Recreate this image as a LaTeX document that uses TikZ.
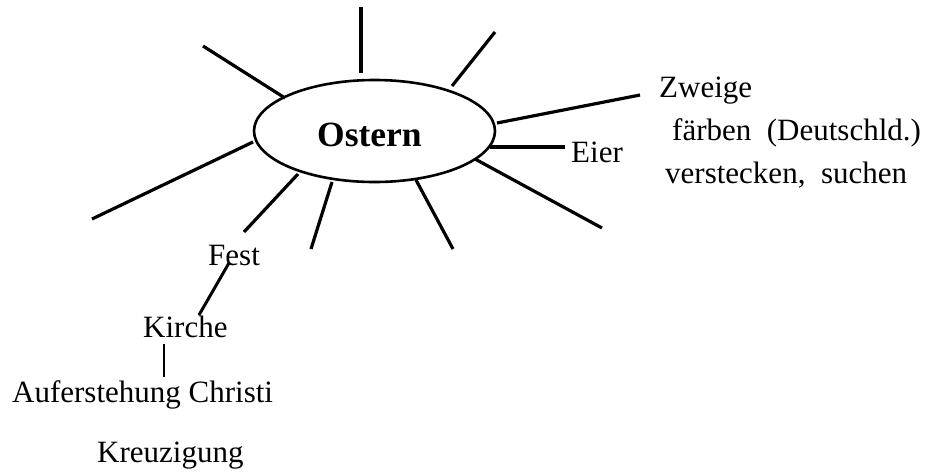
\documentclass[tikz,border=0pt]{standalone}
\usepackage{fontspec}
\setmainfont{Liberation Serif}
\usetikzlibrary{shapes.geometric}
\begin{document}
\begin{tikzpicture}[x=1pt,y=1pt,
  spoke/.style={line width=3.2pt,line cap=butt},
  thinlink/.style={line width=3pt},
  lbl/.style={inner sep=0pt,anchor=base west,font=\fontsize{31}{35}\selectfont},
  hub/.style={ellipse,draw,line width=2.6pt,inner sep=0pt,minimum width=241pt,minimum height=102pt}]
\useasboundingbox (0,0) rectangle (935,-475);
\node[hub] (ost) at (374.5,-131) {};
\node[inner sep=0pt,anchor=base west,font=\fontsize{35.5}{40}\selectfont\bfseries] (ostlbl) at (317,-146) {Ostern};
% labels
\node[lbl] (zweige) at (659,-97) {Zweige};
\node[lbl] (faerben) at (672,-140) {färben\ \ (Deutschld.)};
\node[lbl] (verst) at (665,-183) {verstecken,\ \ suchen};
\node[lbl] (eier) at (571,-162) {Eier};
\node[lbl] (fest) at (208,-265) {Fest};
\node[lbl] (kirche) at (143,-337) {Kirche};
\node[lbl] (aufer) at (12,-402) {Auferstehung Christi};
\node[lbl] (kreuz) at (97,-462) {Kreuzigung};
% spoke coordinates
\coordinate (a1) at (361,-73);  \coordinate (b1) at (361,-7);
\coordinate (a2) at (285,-98);  \coordinate (b2) at (203,-46);
\coordinate (a3) at (452,-86);  \coordinate (b3) at (495,-32);
\coordinate (a4) at (497,-123); \coordinate (b4) at (640,-95);
\coordinate (a5) at (490,-147); \coordinate (b5) at (565,-147);
\coordinate (a6) at (475,-159); \coordinate (b6) at (602,-228);
\coordinate (a7) at (416,-180); \coordinate (b7) at (453,-249);
\coordinate (a8) at (332,-182); \coordinate (b8) at (311,-249);
\coordinate (a9) at (298,-174); \coordinate (b9) at (244,-232);
\coordinate (a10) at (253,-142); \coordinate (b10) at (92,-219);
\foreach \i in {1,...,10} {\draw[spoke] (a\i) -- (b\i);}
% sub links
\coordinate (fk1) at (229,-263); \coordinate (fk2) at (199,-315);
\coordinate (ka1) at (164,-344); \coordinate (ka2) at (164,-377);
\draw[thinlink] (fk1) -- (fk2);
\draw[line width=2.4pt] (ka1) -- (ka2);
\end{tikzpicture}
\end{document}
